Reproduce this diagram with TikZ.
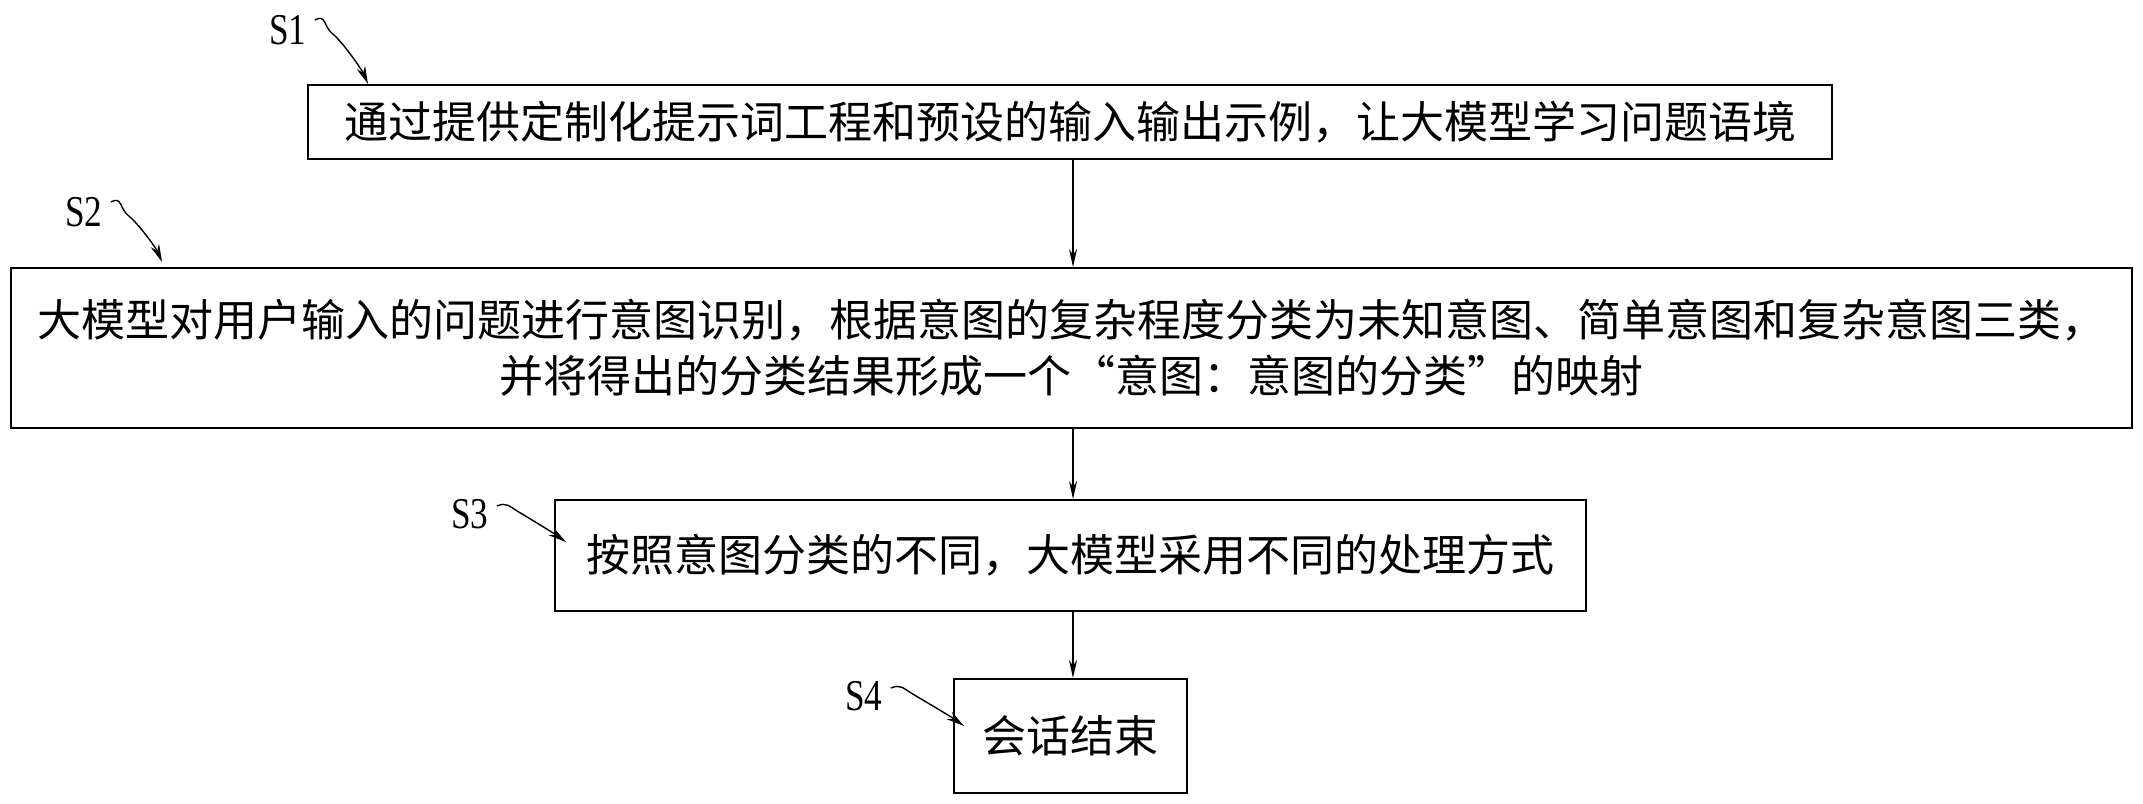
\documentclass[tikz,border=0pt]{standalone}
\usepackage{fontspec}
\setmainfont{Liberation Serif}
\newfontfamily\cjk{Noto Sans CJK SC}
\usetikzlibrary{arrows.meta}
\begin{document}
\begin{tikzpicture}[x=1pt,y=-1pt,
  box/.style={draw,line width=2pt,font=\cjk\fontsize{44}{56}\selectfont,align=center,inner sep=0pt},
  lab/.style={font=\fontsize{44}{44}\selectfont,inner sep=0pt},
  conn/.style={line width=1.6pt,-{Stealth[length=18pt,width=8pt]}},
  lead/.style={line width=1.4pt,-{Stealth[length=18pt,width=9pt]}}]
\useasboundingbox (0,0) rectangle (2143,803);
\node[box,minimum width=1524pt,minimum height=74pt] (b1) at (1070,122) {通过提供定制化提示词工程和预设的输入输出示例，让大模型学习问题语境};
\node[box,minimum width=2121pt,minimum height=160pt] (b2) at (1071.5,348) {大模型对用户输入的问题进行意图识别，根据意图的复杂程度分类为未知意图、简单意图和复杂意图三类，\\并将得出的分类结果形成一个“意图：意图的分类”的映射};
\node[box,minimum width=1031pt,minimum height=111pt] (b3) at (1070.5,555.5) {按照意图分类的不同，大模型采用不同的处理方式};
\node[box,minimum width=233pt,minimum height=114pt] (b4) at (1070.5,736) {会话结束};
\draw[conn] (b1.south -| 1073,0) -- (b2.north -| 1073,0);
\draw[conn] (b2.south -| 1073,0) -- (b3.north -| 1073,0);
\draw[conn] (b3.south -| 1073,0) -- (b4.north -| 1073,0);
\node[lab,xscale=0.8] (s1) at (288,30) {S1};
\node[lab,xscale=0.8] (s2) at (84,212) {S2};
\node[lab,xscale=0.8] (s3) at (470,514) {S3};
\node[lab,xscale=0.8] (s4) at (864,696) {S4};
\coordinate (t1) at (368,84); \coordinate (t2) at (162,262);
\coordinate (t3) at (566,542); \coordinate (t4) at (964,726);
\draw[lead] (s1.east)++(8,-10) .. controls +(12,-6) and +(-10,-8) .. ++(18,14) .. controls +(10,8) and +(-6,-14) .. (t1);
\draw[lead] (s2.east)++(8,-10) .. controls +(12,-6) and +(-10,-8) .. ++(18,14) .. controls +(10,8) and +(-6,-14) .. (t2);
\draw[lead] (s3.east)++(8,-8) .. controls +(10,-4) and +(-10,-6) .. ++(22,6) .. controls +(10,6) and +(-14,-10) .. (t3);
\draw[lead] (s4.east)++(8,-8) .. controls +(10,-4) and +(-10,-6) .. ++(22,6) .. controls +(10,6) and +(-14,-10) .. (t4);
\end{tikzpicture}
\end{document}
